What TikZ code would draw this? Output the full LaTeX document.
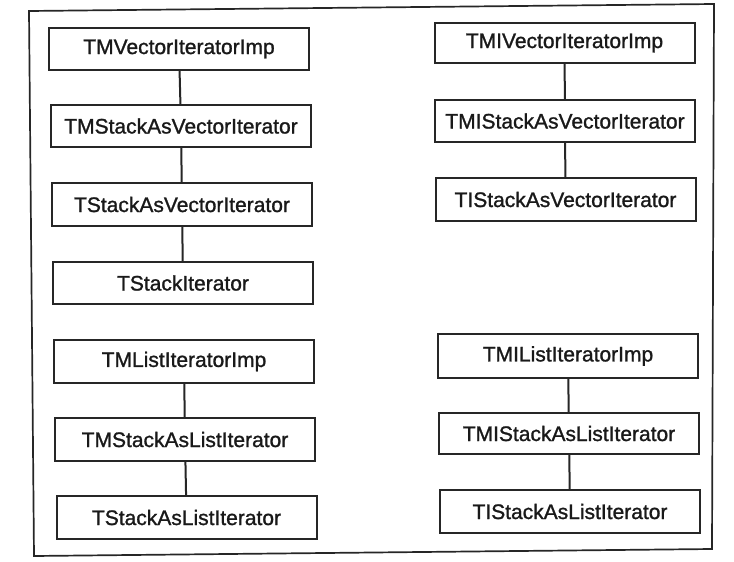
\documentclass[tikz,border=0pt]{standalone}
\usepackage{fontspec}
\setmainfont{Liberation Sans}
\newfontfamily\boxfont[FakeBold=1.2]{Liberation Sans}
\begin{document}
\begin{tikzpicture}[x=1pt,y=-1pt,
  cls/.style={draw=black!85, line width=2pt, minimum width=260pt, minimum height=42pt,
    inner sep=0pt, font=\boxfont\fontsize{21}{23}\selectfont, text=black!90},
  link/.style={draw=black!85, line width=2pt}]
\useasboundingbox (0,0) rectangle (734,562);
% frame
\draw[line width=1.7pt, black!85] (29,11) -- (714,4) -- (712,549) -- (34,556) -- cycle;
% left column
\node[cls] (L1) at (179,49) {TMVectorIteratorImp};
\node[cls] (L2) at (181,126) {TMStackAsVectorIterator};
\node[cls, minimum height=43pt] (L3) at (182,204.5) {TStackAsVectorIterator};
\node[cls] (L4) at (183,283) {TStackIterator};
\node[cls, minimum height=43pt] (L5) at (184,361.5) {TMListIteratorImp};
\node[cls, minimum height=43pt] (L6) at (185,439.5) {TMStackAsListIterator};
\node[cls, minimum height=43pt] (L7) at (186.5,517.5) {TStackAsListIterator};
% right column
\node[cls, minimum height=40pt] (R1) at (564.5,43) {TMIVectorIteratorImp};
\node[cls] (R2) at (565,121) {TMIStackAsVectorIterator};
\node[cls, minimum height=43pt] (R3) at (565.5,199.5) {TIStackAsVectorIterator};
\node[cls, minimum height=44pt] (R4) at (568,356) {TMIListIteratorImp};
\node[cls, minimum height=41pt] (R5) at (569,433.5) {TMIStackAsListIterator};
\node[cls, minimum height=43pt] (R6) at (570,511.5) {TIStackAsListIterator};
% connectors
\draw[link] (L1) -- (L2);
\draw[link] (L2) -- (L3);
\draw[link] (L3) -- (L4);
\draw[link] (L5) -- (L6);
\draw[link] (L6) -- (L7);
\draw[link] (R1) -- (R2);
\draw[link] (R2) -- (R3);
\draw[link] (R4) -- (R5);
\draw[link] (R5) -- (R6);
\end{tikzpicture}
\end{document}
